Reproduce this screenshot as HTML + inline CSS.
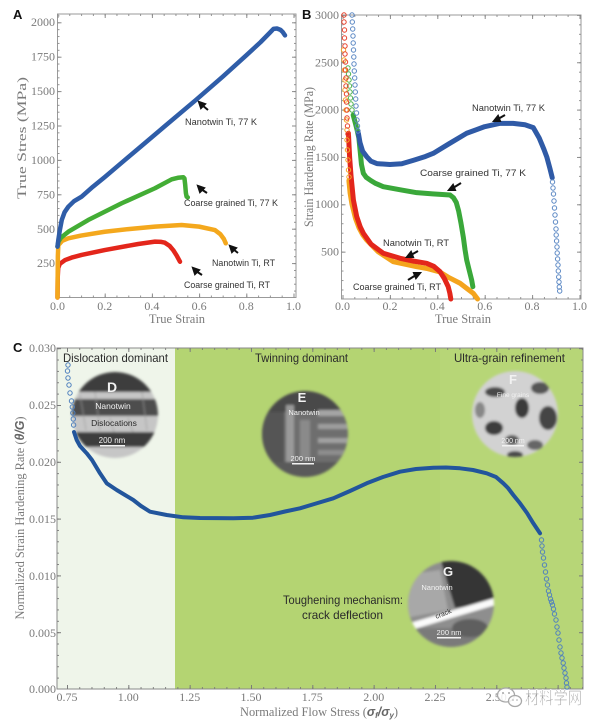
<!DOCTYPE html>
<html><head><meta charset="utf-8"><style>
html,body{margin:0;padding:0;background:#fff;}
svg{display:block;}
.tl{font-family:"Liberation Serif",serif;font-size:12px;fill:#7a7a7a;}
.at{font-family:"Liberation Serif",serif;font-size:12.5px;fill:#7a7a7a;}
.ann{font-family:"Liberation Sans",sans-serif;font-size:9.5px;fill:#333;}
.pl{font-family:"Liberation Sans",sans-serif;font-weight:bold;font-size:13px;fill:#111;}
.reg{font-family:"Liberation Sans",sans-serif;font-size:12px;fill:#2a2a2a;}
.mw{font-family:"Liberation Sans",sans-serif;fill:#f2f2f2;}
</style></head><body>
<svg width="600" height="724" viewBox="0 0 600 724" xmlns="http://www.w3.org/2000/svg">
<defs>
<pattern id="pAxm" x="57.5" y="0" width="11.8" height="8" patternUnits="userSpaceOnUse"><rect width="0.9" height="8" fill="#8a8a8a"/></pattern>
<pattern id="pAxM" x="57.5" y="0" width="47.2" height="8" patternUnits="userSpaceOnUse"><rect width="1" height="8" fill="#8a8a8a"/></pattern>
<pattern id="pAym" x="0" y="297.5" width="8" height="6.88" patternUnits="userSpaceOnUse"><rect width="8" height="0.9" fill="#8a8a8a"/></pattern>
<pattern id="pAyM" x="0" y="297.5" width="8" height="34.4" patternUnits="userSpaceOnUse"><rect width="8" height="1" fill="#8a8a8a"/></pattern>
<pattern id="pBxm" x="342.5" y="0" width="11.85" height="8" patternUnits="userSpaceOnUse"><rect width="0.9" height="8" fill="#8a8a8a"/></pattern>
<pattern id="pBxM" x="342.5" y="0" width="47.4" height="8" patternUnits="userSpaceOnUse"><rect width="1" height="8" fill="#8a8a8a"/></pattern>
<pattern id="pBym" x="0" y="299" width="8" height="9.47" patternUnits="userSpaceOnUse"><rect width="8" height="0.9" fill="#8a8a8a"/></pattern>
<pattern id="pByM" x="0" y="299" width="8" height="47.35" patternUnits="userSpaceOnUse"><rect width="8" height="1" fill="#8a8a8a"/></pattern>
<pattern id="pCxm" x="67" y="0" width="12.265" height="8" patternUnits="userSpaceOnUse"><rect width="0.9" height="8" fill="#7a7a7a"/></pattern>
<pattern id="pCxM" x="67" y="0" width="61.33" height="8" patternUnits="userSpaceOnUse"><rect width="1" height="8" fill="#7a7a7a"/></pattern>
<pattern id="pCym" x="0" y="689" width="8" height="11.36" patternUnits="userSpaceOnUse"><rect width="8" height="0.9" fill="#7a7a7a"/></pattern>
<pattern id="pCyM" x="0" y="689" width="8" height="56.8" patternUnits="userSpaceOnUse"><rect width="8" height="1" fill="#7a7a7a"/></pattern>
<clipPath id="cD"><circle cx="115" cy="415" r="43"/></clipPath>
<clipPath id="cE"><circle cx="305" cy="434" r="43"/></clipPath>
<clipPath id="cF"><circle cx="515" cy="414" r="43"/></clipPath>
<clipPath id="cG"><circle cx="451" cy="604" r="43"/></clipPath>
<filter id="soft" x="-15%" y="-15%" width="130%" height="130%"><feGaussianBlur stdDeviation="1.3"/></filter>
</defs>

<rect width="600" height="724" fill="#fff"/>

<!-- ============ PANEL A ============ -->
<text class="pl" x="13" y="19">A</text>
<rect x="57.5" y="14" width="238.5" height="283.5" fill="none" stroke="#9a9a9a" stroke-width="1"/>
<rect x="57.5" y="293.5" width="238.5" height="4" fill="url(#pAxM)"/>
<rect x="57.5" y="295.5" width="238.5" height="2" fill="url(#pAxm)"/>
<rect x="57.5" y="14" width="238.5" height="4" fill="url(#pAxM)"/>
<rect x="57.5" y="14" width="238.5" height="2" fill="url(#pAxm)"/>
<rect x="57.5" y="14" width="4" height="283.5" fill="url(#pAyM)"/>
<rect x="57.5" y="14" width="2" height="283.5" fill="url(#pAym)"/>
<rect x="292" y="14" width="4" height="283.5" fill="url(#pAyM)"/>
<rect x="294" y="14" width="2" height="283.5" fill="url(#pAym)"/>

<g class="tl" text-anchor="end">
<text x="55" y="26">2000</text>
<text x="55" y="60.5">1750</text>
<text x="55" y="95">1500</text>
<text x="55" y="129.5">1250</text>
<text x="55" y="164">1000</text>
<text x="55" y="198.5">750</text>
<text x="55" y="233">500</text>
<text x="55" y="267">250</text>
</g>
<g class="tl" text-anchor="middle">
<text x="57.5" y="310">0.0</text>
<text x="104.7" y="310">0.2</text>
<text x="151.9" y="310">0.4</text>
<text x="199.1" y="310">0.6</text>
<text x="246.3" y="310">0.8</text>
<text x="293.5" y="310">1.0</text>
</g>
<text class="at" text-anchor="middle" transform="translate(26,138) rotate(-90)" textLength="122" lengthAdjust="spacingAndGlyphs">True Stres  (MPa)</text>
<text class="at" x="177" y="323" text-anchor="middle">True Strain</text>

<g transform="translate(57.5,297.5) scale(236,-0.1376)" fill="none" stroke-linecap="round" stroke-linejoin="round">
<polyline vector-effect="non-scaling-stroke" stroke="#e3261b" stroke-width="4.5" points="0,0 0.001,150 0.003,215 0.01,245 0.032,272 0.06,290 0.102,309 0.2,345 0.342,389 0.413,406 0.44,404 0.455,398 0.475,375 0.49,345 0.505,305 0.519,260"/>
<polyline vector-effect="non-scaling-stroke" stroke="#f4a81d" stroke-width="4.5" points="0,0 0.0015,300 0.0035,380 0.02,412 0.046,430 0.1,450 0.2,478 0.3,497 0.413,515 0.526,527 0.6,515 0.667,490 0.69,460 0.705,425 0.713,394"/>
<polyline vector-effect="non-scaling-stroke" stroke="#43ad35" stroke-width="4.5" points="0,370 0.0035,405 0.015,435 0.046,478 0.13,563 0.272,685 0.413,794 0.484,859 0.51,870 0.533,874 0.538,865 0.541,820 0.544,760 0.547,733 0.552,728"/>
<polyline vector-effect="non-scaling-stroke" stroke="#2f5da8" stroke-width="4.5" points="0,370 0.0035,418 0.01,490 0.018,563 0.03,620 0.046,660 0.07,700 0.102,733 0.15,805 0.2,875 0.272,980 0.357,1103 0.45,1238 0.586,1435 0.7,1605 0.8,1760 0.86,1855 0.9,1925 0.915,1952 0.93,1955 0.945,1945 0.955,1928 0.964,1905"/>
</g>

<g stroke="#111" stroke-width="2" fill="#111">
<line x1="208" y1="110" x2="202" y2="105"/><polygon points="199,102 205,104 201,108"/>
<line x1="207" y1="193" x2="201" y2="189"/><polygon points="198,186 204,188 200,192"/>
<line x1="238" y1="253" x2="233" y2="249"/><polygon points="230,246 236,248 232,252"/>
<line x1="202" y1="275" x2="196" y2="271"/><polygon points="193,268 199,270 195,274"/>
</g>
<text class="ann" x="185" y="125" textLength="72" lengthAdjust="spacingAndGlyphs">Nanotwin Ti, 77 K</text>
<text class="ann" x="184" y="206" textLength="94" lengthAdjust="spacingAndGlyphs">Coarse grained Ti, 77 K</text>
<text class="ann" x="212" y="266" textLength="63" lengthAdjust="spacingAndGlyphs">Nanotwin Ti, RT</text>
<text class="ann" x="184" y="288" textLength="86" lengthAdjust="spacingAndGlyphs">Coarse grained Ti, RT</text>

<!-- ============ PANEL B ============ -->
<text class="pl" x="302" y="19">B</text>
<rect x="341.5" y="15" width="239.5" height="284" fill="none" stroke="#9a9a9a" stroke-width="1"/>
<rect x="341.5" y="295" width="239.5" height="4" fill="url(#pBxM)"/>
<rect x="341.5" y="297" width="239.5" height="2" fill="url(#pBxm)"/>
<rect x="341.5" y="15" width="239.5" height="4" fill="url(#pBxM)"/>
<rect x="341.5" y="15" width="239.5" height="2" fill="url(#pBxm)"/>
<rect x="341.5" y="15" width="4" height="284" fill="url(#pByM)"/>
<rect x="341.5" y="15" width="2" height="284" fill="url(#pBym)"/>
<rect x="577" y="15" width="4" height="284" fill="url(#pByM)"/>
<rect x="579" y="15" width="2" height="284" fill="url(#pBym)"/>

<g class="tl" text-anchor="end">
<text x="339" y="19">3000</text>
<text x="339" y="66.4">2500</text>
<text x="339" y="113.6">2000</text>
<text x="339" y="161">1500</text>
<text x="339" y="208">1000</text>
<text x="339" y="255.6">500</text>
</g>
<g class="tl" text-anchor="middle">
<text x="342.5" y="310">0.0</text>
<text x="390" y="310">0.2</text>
<text x="437.3" y="310">0.4</text>
<text x="484.7" y="310">0.6</text>
<text x="532" y="310">0.8</text>
<text x="579.5" y="310">1.0</text>
</g>
<text class="at" text-anchor="middle" transform="translate(313,157) rotate(-90)" textLength="140" lengthAdjust="spacingAndGlyphs">Strain Hardening Rate (MPa)</text>
<text class="at" x="463" y="323" text-anchor="middle">True Strain</text>

<g transform="translate(342.5,299) scale(237,-0.0947)" fill="none" stroke-linecap="round" stroke-linejoin="round">
<polyline vector-effect="non-scaling-stroke" stroke="#3aa83a" stroke-width="5" points="0.045,1943 0.055,1850 0.062,1780 0.069,1700 0.075,1550 0.08,1420 0.088,1327 0.1,1285 0.12,1250 0.14,1220 0.172,1186 0.25,1150 0.313,1123 0.38,1110 0.454,1098 0.468,1070 0.48,1020 0.49,930 0.5,800 0.51,650 0.517,520 0.524,412 0.535,300 0.545,200 0.55,130"/>
<polyline vector-effect="non-scaling-stroke" stroke="#2f5aa6" stroke-width="5" points="0.067,1750 0.074,1650 0.085,1560 0.102,1503 0.12,1455 0.145,1430 0.2,1420 0.25,1428 0.3,1465 0.35,1505 0.383,1538 0.45,1640 0.524,1750 0.6,1820 0.665,1855 0.72,1855 0.77,1840 0.805,1810 0.83,1700 0.85,1580 0.862,1500 0.875,1380 0.885,1280"/>
<polyline vector-effect="non-scaling-stroke" stroke="#f4a41d" stroke-width="5" points="0.027,1250 0.032,1120 0.04,1000 0.055,850 0.07,750 0.085,680 0.102,623 0.15,500 0.214,394 0.313,341 0.36,320 0.411,285 0.45,225 0.496,166 0.52,120 0.552,60 0.57,0"/>
<polyline vector-effect="non-scaling-stroke" stroke="#e3261b" stroke-width="5" points="0.025,1750 0.03,1500 0.036,1300 0.046,1046 0.06,870 0.075,760 0.088,694 0.12,580 0.172,483 0.243,430 0.3,400 0.355,377 0.385,345 0.411,290 0.43,215 0.446,130 0.453,60 0.457,0"/>
</g>
<g fill="none" stroke-width="1">
<g stroke="#5b88c4">
<circle cx="352" cy="15" r="2.2"/><circle cx="352.3" cy="22" r="2.2"/><circle cx="352.7" cy="29" r="2.2"/><circle cx="353" cy="36" r="2.2"/><circle cx="353.2" cy="43" r="2.2"/><circle cx="353.5" cy="50" r="2.2"/><circle cx="353.8" cy="57" r="2.2"/><circle cx="354" cy="64" r="2.2"/><circle cx="354.3" cy="71" r="2.2"/><circle cx="354.7" cy="78" r="2.2"/><circle cx="355" cy="85" r="2.2"/><circle cx="355.3" cy="92" r="2.2"/><circle cx="355.7" cy="99" r="2.2"/><circle cx="356" cy="106" r="2.2"/><circle cx="356.5" cy="113" r="2.2"/><circle cx="357" cy="120" r="2.2"/><circle cx="357.5" cy="126" r="2.2"/><circle cx="358" cy="131" r="2.2"/>
<circle cx="552.5" cy="182" r="2.2"/><circle cx="553" cy="188" r="2.2"/><circle cx="553.5" cy="194" r="2.2"/><circle cx="554" cy="201" r="2.2"/><circle cx="554.5" cy="208" r="2.2"/><circle cx="555" cy="215" r="2.2"/><circle cx="555.5" cy="222" r="2.2"/><circle cx="556" cy="229" r="2.2"/><circle cx="556.2" cy="235" r="2.2"/><circle cx="556.6" cy="241" r="2.2"/><circle cx="557" cy="247" r="2.2"/><circle cx="557.2" cy="253" r="2.2"/><circle cx="557.6" cy="259" r="2.2"/><circle cx="558" cy="265" r="2.2"/><circle cx="558.3" cy="271" r="2.2"/><circle cx="558.7" cy="277" r="2.2"/><circle cx="559" cy="282" r="2.2"/><circle cx="559.3" cy="287" r="2.2"/><circle cx="559.7" cy="291" r="2.2"/>
</g>
<g stroke="#4cb44c">
<circle cx="348" cy="68" r="2.2"/><circle cx="348.5" cy="74" r="2.2"/><circle cx="349" cy="80" r="2.2"/><circle cx="349.5" cy="86" r="2.2"/><circle cx="350" cy="92" r="2.2"/><circle cx="350.5" cy="98" r="2.2"/><circle cx="351" cy="104" r="2.2"/><circle cx="352" cy="110" r="2.2"/>
</g>
<g stroke="#f5a623">
<circle cx="343.5" cy="50" r="2.2"/><circle cx="344" cy="60" r="2.2"/><circle cx="344.5" cy="70" r="2.2"/><circle cx="345" cy="80" r="2.2"/><circle cx="345" cy="90" r="2.2"/><circle cx="345.5" cy="100" r="2.2"/><circle cx="346" cy="110" r="2.2"/><circle cx="346.5" cy="120" r="2.2"/><circle cx="347" cy="130" r="2.2"/><circle cx="347" cy="140" r="2.2"/><circle cx="347.5" cy="150" r="2.2"/><circle cx="348" cy="160" r="2.2"/><circle cx="348.5" cy="170" r="2.2"/><circle cx="349" cy="177" r="2.2"/>
</g>
<g stroke="#e8402a">
<circle cx="344" cy="15" r="2.2"/><circle cx="344" cy="22" r="2.2"/><circle cx="344.5" cy="30" r="2.2"/><circle cx="344.5" cy="38" r="2.2"/><circle cx="345" cy="46" r="2.2"/><circle cx="345" cy="54" r="2.2"/><circle cx="345.5" cy="62" r="2.2"/><circle cx="345.5" cy="70" r="2.2"/><circle cx="346" cy="78" r="2.2"/><circle cx="346" cy="86" r="2.2"/><circle cx="346.5" cy="94" r="2.2"/><circle cx="346.5" cy="102" r="2.2"/><circle cx="347" cy="110" r="2.2"/><circle cx="347" cy="118" r="2.2"/><circle cx="347.5" cy="126" r="2.2"/><circle cx="348" cy="134" r="2.2"/>
</g>
</g>

<g stroke="#111" stroke-width="2" fill="#111">
<line x1="505" y1="115" x2="498" y2="119"/><polygon points="494,121 498,116 500,121"/>
<line x1="461" y1="183" x2="453" y2="188"/><polygon points="449,190 453,185 455,190"/>
<line x1="418" y1="251" x2="411" y2="255"/><polygon points="407,257 411,252 413,257"/>
<line x1="408" y1="280" x2="416" y2="275"/><polygon points="420,273 416,278 414,273"/>
</g>
<text class="ann" x="472" y="111" textLength="73" lengthAdjust="spacingAndGlyphs">Nanotwin Ti, 77 K</text>
<text class="ann" x="420" y="176" textLength="106" lengthAdjust="spacingAndGlyphs">Coarse grained Ti, 77 K</text>
<text class="ann" x="383" y="246" textLength="66" lengthAdjust="spacingAndGlyphs">Nanotwin Ti, RT</text>
<text class="ann" x="353" y="290" textLength="88" lengthAdjust="spacingAndGlyphs">Coarse grained Ti, RT</text>

<!-- ============ PANEL C ============ -->
<text class="pl" x="13" y="352">C</text>
<rect x="57" y="348" width="118" height="341" fill="#eff5ea"/>
<rect x="175" y="348" width="265" height="341" fill="#b4d472"/>
<rect x="440" y="348" width="143" height="341" fill="#b7d677"/>
<rect x="57" y="348" width="526" height="341" fill="none" stroke="#8a8a8a" stroke-width="1"/>
<rect x="57" y="685" width="526" height="4" fill="url(#pCxM)"/>
<rect x="57" y="687" width="526" height="2" fill="url(#pCxm)"/>
<rect x="57" y="348" width="526" height="4" fill="url(#pCxM)"/>
<rect x="57" y="348" width="526" height="2" fill="url(#pCxm)"/>
<rect x="57" y="348" width="4" height="341" fill="url(#pCyM)"/>
<rect x="57" y="348" width="2" height="341" fill="url(#pCym)"/>
<rect x="579" y="348" width="4" height="341" fill="url(#pCyM)"/>
<rect x="581" y="348" width="2" height="341" fill="url(#pCym)"/>

<g class="tl" text-anchor="end">
<text x="56" y="352">0.030</text>
<text x="56" y="409">0.025</text>
<text x="56" y="466">0.020</text>
<text x="56" y="523">0.015</text>
<text x="56" y="580">0.010</text>
<text x="56" y="637">0.005</text>
<text x="56" y="693">0.000</text>
</g>
<g class="tl" text-anchor="middle">
<text x="67" y="701">0.75</text>
<text x="128.3" y="701">1.00</text>
<text x="189.7" y="701">1.25</text>
<text x="251" y="701">1.50</text>
<text x="312.3" y="701">1.75</text>
<text x="373.7" y="701">2.00</text>
<text x="435" y="701">2.25</text>
<text x="496.3" y="701">2.50</text>
</g>
<text class="at" text-anchor="middle" transform="translate(24,518) rotate(-90)" textLength="203" lengthAdjust="spacingAndGlyphs">Normalized Strain Hardening Rate (<tspan font-family="Liberation Sans" font-style="italic" font-weight="bold" fill="#666">θ/G</tspan>)</text>
<text class="at" x="240" y="716" textLength="158" lengthAdjust="spacingAndGlyphs">Normalized Flow Stress (<tspan font-family="Liberation Sans" font-style="italic" font-weight="bold" fill="#666">σ<tspan font-size="8" dy="2">f</tspan><tspan dy="-2">/σ</tspan><tspan font-size="8" dy="2">y</tspan></tspan><tspan dy="-2">)</tspan></text>

<text class="reg" x="63" y="362" textLength="105" lengthAdjust="spacingAndGlyphs">Dislocation dominant</text>
<text class="reg" x="255" y="362" textLength="93" lengthAdjust="spacingAndGlyphs">Twinning dominant</text>
<text class="reg" x="454" y="362" textLength="111" lengthAdjust="spacingAndGlyphs">Ultra-grain refinement</text>
<text class="reg" x="283" y="604" textLength="120" lengthAdjust="spacingAndGlyphs">Toughening mechanism:</text>
<text class="reg" x="302" y="619" textLength="81" lengthAdjust="spacingAndGlyphs">crack deflection</text>

<!-- micrograph D -->
<g filter="url(#soft)"><g clip-path="url(#cD)">
<rect x="70" y="370" width="90" height="90" fill="#c6c6c6"/>
<rect x="70" y="370" width="90" height="22" fill="#3c3c3c"/>
<rect x="70" y="399" width="90" height="17" fill="#4e4e4e"/>
<rect x="70" y="432" width="90" height="15" fill="#3e3e3e"/>
<g stroke="#9a9a9a" stroke-width="1.2" opacity="0.6">
<line x1="80" y1="395" x2="86" y2="430"/><line x1="95" y1="392" x2="100" y2="430"/><line x1="128" y1="418" x2="133" y2="432"/><line x1="142" y1="392" x2="147" y2="430"/><line x1="110" y1="418" x2="114" y2="432"/>
</g>
</g></g>
<text class="mw" x="112" y="392" font-size="14" font-weight="bold" text-anchor="middle">D</text>
<text class="mw" x="113" y="409" font-size="8.5" text-anchor="middle" fill="#ddd">Nanotwin</text>
<text x="114" y="426" font-family="Liberation Sans, sans-serif" font-size="8.5" text-anchor="middle" fill="#2a2a2a">Dislocations</text>
<text class="mw" x="112" y="443" font-size="8" text-anchor="middle">200 nm</text>
<rect x="100" y="445" width="25" height="1.5" fill="#f2f2f2"/>

<!-- micrograph E -->
<g filter="url(#soft)"><g clip-path="url(#cE)">
<rect x="260" y="390" width="90" height="90" fill="#6e6e6e"/>
<rect x="260" y="390" width="90" height="22" fill="#4a4a4a"/>
<rect x="262" y="412" width="22" height="50" fill="#555"/>
<rect x="286" y="405" width="8" height="60" fill="#9a9a9a"/>
<rect x="300" y="420" width="10" height="40" fill="#8a8a8a"/>
<rect x="318" y="410" width="30" height="6" fill="#a5a5a5"/>
<rect x="318" y="424" width="30" height="5" fill="#9e9e9e"/>
<rect x="318" y="438" width="30" height="5" fill="#a0a0a0"/>
<rect x="318" y="450" width="30" height="5" fill="#8e8e8e"/>
<rect x="270" y="462" width="70" height="20" fill="#5a5a5a"/>
</g></g>
<text class="mw" x="302" y="402" font-size="13" font-weight="bold" text-anchor="middle">E</text>
<text class="mw" x="304" y="415" font-size="7.5" text-anchor="middle">Nanotwin</text>
<text class="mw" x="303" y="461" font-size="7.5" text-anchor="middle">200 nm</text>
<rect x="292" y="463" width="22" height="1.5" fill="#f2f2f2"/>

<!-- micrograph F -->
<g filter="url(#soft)"><g clip-path="url(#cF)">
<rect x="470" y="370" width="90" height="90" fill="#d2d2d2"/>
<ellipse cx="495" cy="392" rx="10" ry="5" fill="#4a4a4a"/>
<ellipse cx="540" cy="388" rx="9" ry="6" fill="#555"/>
<ellipse cx="522" cy="408" rx="7" ry="10" fill="#3a3a3a"/>
<ellipse cx="548" cy="418" rx="9" ry="12" fill="#444"/>
<ellipse cx="494" cy="428" rx="9" ry="7" fill="#3c3c3c"/>
<ellipse cx="512" cy="440" rx="7" ry="5" fill="#5a5a5a"/>
<ellipse cx="535" cy="445" rx="8" ry="5" fill="#666"/>
<ellipse cx="480" cy="410" rx="5" ry="8" fill="#888"/>
<ellipse cx="515" cy="455" rx="8" ry="4" fill="#4a4a4a"/>
</g></g>
<text class="mw" x="513" y="384" font-size="13" font-weight="bold" text-anchor="middle">F</text>
<text class="mw" x="513" y="397" font-size="6.5" text-anchor="middle">Fine grains</text>
<text class="mw" x="513" y="443" font-size="7" text-anchor="middle">200 nm</text>
<rect x="502" y="445" width="22" height="1.5" fill="#f2f2f2"/>

<!-- micrograph G -->
<g filter="url(#soft)"><g clip-path="url(#cG)">
<rect x="405" y="558" width="92" height="92" fill="#8e8e8e"/>
<polygon points="440,558 497,558 497,603 455,608 448,585" fill="#353535"/>
<polygon points="405,575 440,570 448,610 405,618" fill="#a8a8a8"/>
<rect x="405" y="628" width="92" height="25" fill="#7a7a7a"/>
<ellipse cx="470" cy="628" rx="18" ry="9" fill="#5e5e5e"/>
<line x1="402" y1="629" x2="500" y2="600" stroke="#fbfbfb" stroke-width="7"/>
</g></g>
<text class="mw" x="448" y="576" font-size="13" font-weight="bold" text-anchor="middle">G</text>
<text class="mw" x="437" y="590" font-size="7.5" text-anchor="middle">Nanotwin</text>
<text x="443" y="616" font-family="Liberation Sans, sans-serif" font-size="7" fill="#333" text-anchor="middle" transform="rotate(-22 443 613)">crack</text>
<text class="mw" x="449" y="635" font-size="7.5" text-anchor="middle">200 nm</text>
<rect x="437" y="637" width="24" height="1.5" fill="#f2f2f2"/>

<!-- C curve -->
<polyline fill="none" stroke="#22559c" stroke-width="4" stroke-linecap="round" stroke-linejoin="round" points="74,432 76.7,440 80,446 86.7,453.3 92,460 100,473.3 106.7,483.3 116.7,490 125,495 133.3,500 141,506 150,511.7 166.7,515 183.3,517.3 200,518 233.3,518.3 253,517.7 270,515 285,511.5 300,508.3 316,503.5 333.3,498.3 350,491 366.7,483.3 383,477 400,471.7 416,469 433.3,467.7 446,467.5 460,468.3 473,470 486.7,473.3 496,477 503.3,483.3 508,488 513.3,495 520,503.3 527,513 533.3,523.3 540,533.3"/>
<g fill="none" stroke="#4f80be" stroke-width="1">
<circle cx="68" cy="365" r="2.2"/><circle cx="67.5" cy="371" r="2.2"/><circle cx="68" cy="378" r="2.2"/><circle cx="69" cy="385" r="2.2"/><circle cx="70" cy="393" r="2.2"/><circle cx="71.5" cy="401" r="2.2"/><circle cx="72.3" cy="407" r="2.2"/><circle cx="72.8" cy="413" r="2.2"/><circle cx="73.3" cy="419" r="2.2"/><circle cx="73.6" cy="425" r="2.2"/>
<circle cx="541.5" cy="540" r="2.2"/><circle cx="542" cy="546" r="2.2"/><circle cx="542.5" cy="552" r="2.2"/><circle cx="543.5" cy="558" r="2.2"/><circle cx="544.5" cy="565" r="2.2"/><circle cx="545.5" cy="572" r="2.2"/><circle cx="546.5" cy="579" r="2.2"/><circle cx="547.5" cy="585" r="2.2"/><circle cx="548.5" cy="591" r="2.2"/><circle cx="549.5" cy="595" r="2.2"/><circle cx="550.5" cy="599" r="2.2"/><circle cx="551.5" cy="602" r="2.2"/><circle cx="552.5" cy="605" r="2.2"/><circle cx="553.5" cy="609" r="2.2"/><circle cx="554.5" cy="614" r="2.2"/><circle cx="556" cy="620" r="2.2"/><circle cx="557" cy="627" r="2.2"/><circle cx="558" cy="633" r="2.2"/><circle cx="559" cy="640" r="2.2"/><circle cx="560" cy="647" r="2.2"/><circle cx="561" cy="653" r="2.2"/><circle cx="562" cy="658" r="2.2"/><circle cx="563.2" cy="663" r="2.2"/><circle cx="564" cy="668" r="2.2"/><circle cx="565" cy="673" r="2.2"/><circle cx="566" cy="678" r="2.2"/><circle cx="566.5" cy="683" r="2.2"/><circle cx="567" cy="687" r="2.2"/>
</g>

<!-- watermark -->
<g stroke="#a8a8a8" stroke-width="1.3" fill="#fff" fill-opacity="0.85">
<ellipse cx="506" cy="695" rx="8.5" ry="7"/>
<ellipse cx="515" cy="701" rx="6.5" ry="5.5"/>
</g>
<g fill="#a8a8a8"><circle cx="503" cy="693" r="1"/><circle cx="509" cy="693" r="1"/><circle cx="513" cy="700" r="0.8"/><circle cx="517" cy="700" r="0.8"/></g>
<text x="525" y="704" font-family="Liberation Sans, 'Noto Sans CJK SC', sans-serif" font-size="17" fill="#9a9a9a" stroke="#fff" stroke-width="0.6" textLength="57" lengthAdjust="spacingAndGlyphs">材料学网</text>
</svg>
</body></html>
